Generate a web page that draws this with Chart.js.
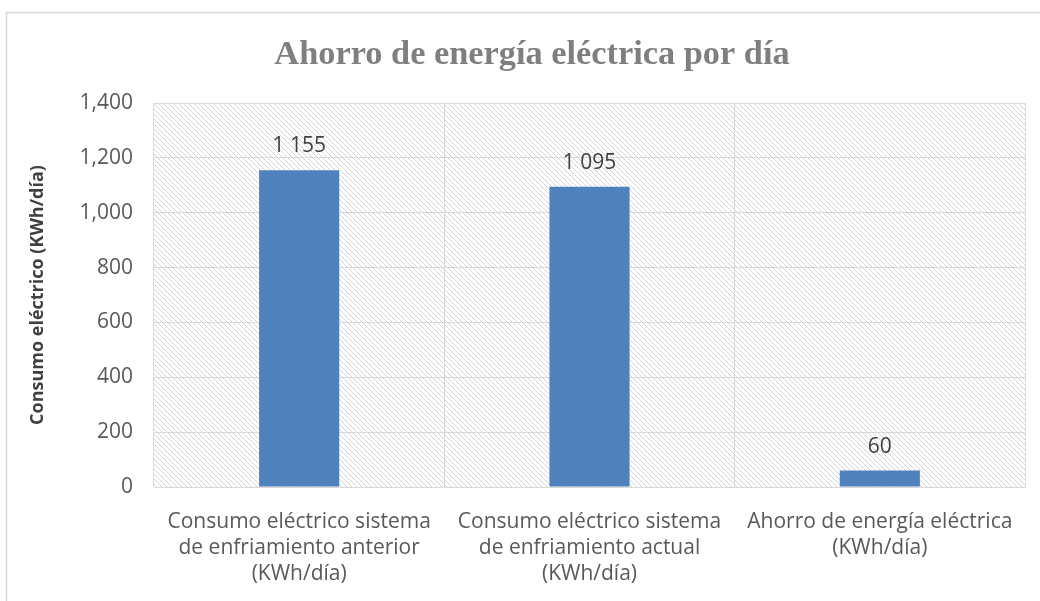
<!DOCTYPE html>
<html>
<head>
<meta charset="utf-8">
<script src="https://cdn.jsdelivr.net/npm/chart.js@4.4.1/dist/chart.umd.min.js"></script>
<style>
  html, body { margin: 0; padding: 0; background: #fff; }
  #wrap { width: 1040px; height: 601px; }
</style>
</head>
<body>
<div id="wrap"><canvas id="ahorroChart" width="1040" height="601"></canvas></div>
<script>
const chartTitle = 'Ahorro de energía eléctrica por día';
const categories = [
    ["Consumo eléctrico sistema", "de enfriamiento anterior", "(KWh/día)"],
    ["Consumo eléctrico sistema", "de enfriamiento actual", "(KWh/día)"],
    ["Ahorro de energía eléctrica", "(KWh/día)"]
];
const consumo = [1155, 1095, 60];
const valueLabels = ["1 155", "1 095", "60"];
const yTicks = [0, 200, 400, 600, 800, 1000, 1200, 1400];

const sansFont = "'Open Sans', 'Liberation Sans', sans-serif";

// diagonal hatch like the Excel plot area fill
function makeHatch() {
    const n = 5;
    const c = document.createElement('canvas');
    c.width = n; c.height = n;
    const g = c.getContext('2d');
    g.fillStyle = '#ffffff';
    g.fillRect(0, 0, n, n);
    g.fillStyle = '#d4d4d4';
    for (let i = 0; i < n; i++) {
        g.fillRect(i, i, 1, 1);
    }
    return g.createPattern(c, 'repeat');
}

const backdrop = {
    id: 'backdrop',
    beforeDraw(chart) {
        const ctx = chart.ctx;
        const a = chart.chartArea;
        ctx.save();
        ctx.fillStyle = '#ffffff';
        ctx.fillRect(0, 0, chart.width, chart.height);
        ctx.strokeStyle = '#d9d9d9';
        ctx.lineWidth = 1.5;
        ctx.strokeRect(6.5, 12.5, chart.width + 20, chart.height + 20);
        ctx.fillStyle = makeHatch();
        ctx.fillRect(a.left, a.top, a.right - a.left, a.bottom - a.top);
        ctx.restore();
    }
};

// serif title, centred on the outer chart frame
const titlePlugin = {
    id: 'frameTitle',
    afterDraw(chart) {
        const ctx = chart.ctx;
        ctx.save();
        ctx.font = "bold 34px 'Liberation Serif', serif";
        ctx.fillStyle = '#7f7f7f';
        ctx.textAlign = 'center';
        ctx.textBaseline = 'alphabetic';
        ctx.translate(532, 64);
        ctx.scale(1.01, 1);
        ctx.fillText(chartTitle, 0, 0);
        ctx.restore();
    }
};

const valueLabelPlugin = {
    id: 'valueLabels',
    afterDatasetsDraw(chart) {
        const ctx = chart.ctx;
        const meta = chart.getDatasetMeta(0);
        ctx.save();
        ctx.font = "21px " + sansFont;
        ctx.fillStyle = '#404040';
        ctx.textAlign = 'center';
        ctx.textBaseline = 'middle';
        meta.data.forEach((bar, i) => {
            ctx.fillText(valueLabels[i], bar.x, bar.y - 24);
        });
        ctx.restore();
    }
};

const ctx = document.getElementById('ahorroChart').getContext('2d');
new Chart(ctx, {
    type: 'bar',
    data: {
        labels: categories,
        datasets: [{
            data: consumo,
            backgroundColor: '#4f81bd',
            borderWidth: 0,
            categoryPercentage: 1,
            barPercentage: 0.276
        }]
    },
    options: {
        responsive: false,
        animation: false,
        devicePixelRatio: 1,
        layout: { padding: { left: 0, right: 15, top: 103, bottom: 0 } },
        plugins: {
            legend: { display: false },
            tooltip: { enabled: false },
            title: { display: false }
        },
        scales: {
            x: {
                grid: { color: '#d9d9d9', drawTicks: false, offset: true },
                border: { color: '#d9d9d9' },
                ticks: {
                    color: '#595959',
                    font: { family: sansFont, size: 21, lineHeight: 1.24 },
                    padding: 22,
                    maxRotation: 0
                },
                afterFit(scale) { scale.height = 114; }
            },
            y: {
                min: 0,
                max: 1400,
                afterBuildTicks(scale) {
                    scale.ticks = yTicks.map(v => ({ value: v }));
                },
                grid: { color: '#d9d9d9', drawTicks: false },
                border: { display: false },
                ticks: {
                    color: '#595959',
                    font: { family: sansFont, size: 21 },
                    padding: 21,
                    callback: v => v.toLocaleString('en-US')
                },
                title: {
                    display: true,
                    text: 'Consumo eléctrico (KWh/día)',
                    color: '#404040',
                    font: { family: sansFont, size: 18, weight: 'bold' },
                    padding: { top: 27, bottom: 0 }
                },
                afterFit(scale) { scale.width = 154; }
            }
        }
    },
    plugins: [backdrop, valueLabelPlugin, titlePlugin]
});
</script>
</body>
</html>
